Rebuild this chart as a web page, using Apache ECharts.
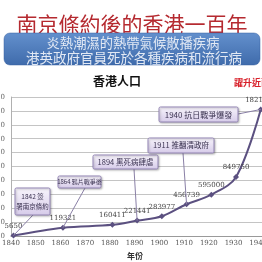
<!DOCTYPE html>
<html><head><meta charset="utf-8">
<script src="https://cdn.jsdelivr.net/npm/echarts@6/dist/echarts.min.js"></script>
<style>html,body{margin:0;padding:0;background:#fff;overflow:hidden}#c{width:262px;height:262px}</style>
</head><body><div id="c"></div>
<script>
// ---- data ----
const years = [1841, 1861, 1881, 1891, 1901, 1911, 1921, 1931, 1941];
const population = [5650, 119321, 160411, 221441, 283977, 456739, 595000, 849750, 1821000];
const mainTitle = '南京條約後的香港一百年';
const bannerLines = ['炎熱潮濕的熱帶氣候散播疾病', '港英政府官員死於各種疾病和流行病'];
const chartTitle = '香港人口';
const xAxisName = '年份';
const sideNote = '躍升近兩倍';
const eventLabels = ['1842 簽\n署南京條約', '1864 鴉片戰爭後', '1894 黑死病肆虐', '1911 推翻清政府', '1940 抗日戰爭爆發'];
const eventAnchorIndex = [0, 1, 3, 5, 8];

// ---- layout (styles / positions) ----
const boxLayout = [
  {x: 15, y: 188, w: 35, h: 27, fs: 6.5, ax: 33, ay: 215},
  {x: 58, y: 176, w: 43, h: 12, fs: 6, ax: 85, ay: 188},
  {x: 93, y: 155, w: 65, h: 14, fs: 7.5, ax: 134, ay: 169},
  {x: 148, y: 138, w: 66, h: 15, fs: 7.5, ax: 183, ay: 153},
  {x: 159, y: 107, w: 79, h: 15, fs: 8, ax: 238, ay: 114}
];

const chart = echarts.init(document.getElementById('c'), null, {renderer: 'canvas'});
const serif = '"DejaVu Serif","Liberation Serif",serif';
const cjk = '"Noto Sans CJK TC","Noto Sans CJK SC",sans-serif';

chart.setOption({
  animation: false,
  backgroundColor: '#ffffff',
  grid: {left: 11, top: 97, width: 272, height: 139, containLabel: false, outerBoundsMode: 'none'},
  xAxis: {
    type: 'value', min: 1840, max: 1950, interval: 10,
    axisLine: {show: true, lineStyle: {color: '#9a9a9a', width: 1}},
    axisTick: {show: false},
    splitLine: {show: false},
    axisLabel: {fontSize: 7, color: '#555', fontFamily: serif, margin: 4, formatter: v => String(v)}
  },
  yAxis: {
    type: 'value', min: 0, max: 2000000, interval: 200000,
    axisLine: {show: true, lineStyle: {color: '#b0b0b0', width: 1}},
    axisTick: {show: false},
    splitLine: {show: true, lineStyle: {color: '#c4c4c4', width: 1}},
    axisLabel: {fontSize: 7, color: '#666', fontFamily: serif, margin: 6, formatter: v => String(v)}
  },
  series: [{
    type: 'line',
    data: years.map((y, i) => [y, population[i]]),
    smooth: 0.35,
    symbol: 'diamond',
    symbolSize: 6,
    itemStyle: {color: '#5b5080'},
    lineStyle: {color: '#5b5080', width: 2},
    label: {show: true, position: 'top', distance: 3, fontSize: 7, color: '#444', fontFamily: serif},
    z: 3
  }]
});

function txt(x, y, text, size, color, weight, align, z, lh) {
  return {type: 'text', x: x, y: y, z: z || 10,
    style: {text: text, font: (weight || 'normal') + ' ' + size + 'px ' + cjk, fontSize: size, fontWeight: weight || 'normal', fontFamily: cjk,
      lineHeight: lh, fill: color, align: align || 'center', textAlign: align || 'center', verticalAlign: 'middle', textVerticalAlign: 'middle'}};
}

const g = [];
g.push(txt(132, 24, mainTitle, 21, '#b52a30'));
g.push({type: 'rect', z: 10, shape: {x: 4, y: 33, width: 256, height: 32, r: 6},
  style: {fill: new echarts.graphic.LinearGradient(0, 0, 0, 1, [{offset: 0, color: '#6390cd'}, {offset: 1, color: '#3f6bab'}]), stroke: '#3a63a0', lineWidth: 0.5}});
g.push(txt(133, 43, bannerLines[0], 13.3, '#e2e9f4', 'normal', 'center', 11));
g.push(txt(134, 58, bannerLines[1], 13.5, '#e2e9f4', 'normal', 'center', 11));
g.push(txt(117, 81, chartTitle, 12, '#111', 'bold'));
g.push(txt(234, 83, sideNote, 9, '#d8202a', 'bold', 'left'));
g.push(txt(135, 256, xAxisName, 8, '#333', 'bold'));

eventLabels.forEach((t, i) => {
  const b = boxLayout[i];
  const idx = eventAnchorIndex[i];
  const p = chart.convertToPixel({seriesIndex: 0}, [years[idx], population[idx]]);
  g.push({type: 'line', z: 4, shape: {x1: b.ax, y1: b.ay, x2: p[0], y2: p[1]}, style: {stroke: '#8a80a6', lineWidth: 1}});
  g.push({type: 'rect', z: 6, shape: {x: b.x, y: b.y, width: b.w, height: b.h, r: 1.5},
    style: {fill: new echarts.graphic.LinearGradient(0, 0, 0, 1, [{offset: 0, color: '#f8f5fc'}, {offset: 1, color: '#d6cbe9'}]),
      stroke: '#9486b6', lineWidth: 1, shadowBlur: 2, shadowColor: 'rgba(0,0,0,0.25)', shadowOffsetX: 1, shadowOffsetY: 1}});
  g.push(txt(b.x + b.w / 2, b.y + b.h / 2, t, b.fs, '#3a3250', 'normal', 'center', 7, b.fs * 1.6));
});

chart.setOption({graphic: {elements: g}});
</script>
</body></html>
